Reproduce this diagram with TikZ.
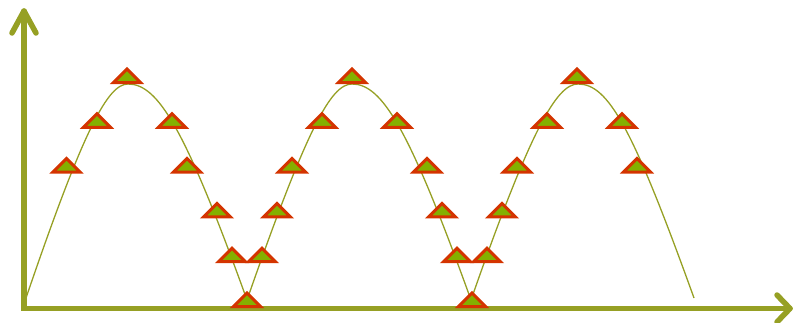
\documentclass[tikz,border=0pt]{standalone}
\definecolor{axisol}{RGB}{150,160,36}
\definecolor{curveol}{RGB}{150,160,36}
\definecolor{trifill}{RGB}{132,176,0}
\definecolor{triedge}{RGB}{212,52,0}
\tikzset{
  axisline/.style={draw=axisol, line width=5.5pt, line cap=round},
  curveline/.style={draw=curveol, line width=1.3pt},
  tri/.pic={\draw[draw=triedge, fill=trifill, line width=3pt, line join=miter] (-13.5,0) -- (0,-13.5) -- (13.5,0) -- cycle;}
}
\begin{document}
\begin{tikzpicture}[x=1pt,y=-1pt]
\path[use as bounding box] (0,0) rectangle (795,322);
% axes
\coordinate (O) at (24,308.5);
\coordinate (Ytip) at (24,11);
\coordinate (Xtip) at (790,308.5);
\coordinate (Yw1) at (12,33);
\coordinate (Yw2) at (36,33);
\coordinate (Xw1) at (777,295);
\coordinate (Xw2) at (777,322);
\draw[axisline, line join=miter] (Ytip) -- (O) -- (Xtip);
\draw[axisline, line join=round] (Yw1) -- (Ytip) -- (Yw2);
\draw[axisline, line join=round] (Xw1) -- (Xtip) -- (Xw2);
% curve
\coordinate (A1) at (26,298);
\coordinate (P1) at (128,84);
\coordinate (A2) at (247,300);
\coordinate (P2) at (352,84);
\coordinate (A3) at (471,300);
\coordinate (P3) at (578,84);
\coordinate (E) at (694,298);
\draw[curveline]
  (A1) .. controls +(58,-170) and +(-20,0) .. (P1)
       .. controls +(30,0) and +(-62,-172) .. (A2)
       .. controls +(60,-172) and +(-21,0) .. (P2)
       .. controls +(30,0) and +(-62,-172) .. (A3)
       .. controls +(60,-172) and +(-21,0) .. (P3)
       .. controls +(30,0) and +(-62,-172) .. (E);
% triangles
\foreach \x/\y [count=\i] in {
  66.5/172.1, 97/127.3, 127/82.5, 172/127.3, 187/172.1, 217/216.9, 232/261.7, 247/306.5,
  262/261.7, 277/216.9, 292/172.1, 322/127.3, 352/82.5,
  397/127.3, 427/172.1, 442/216.9, 457/261.7, 472/306.5,
  487/261.7, 502/216.9, 517/172.1, 547/127.3, 577/82.5,
  622/127.3, 637/172.1}
  \pic (t\i) at (\x,\y) {tri};
\end{tikzpicture}
\end{document}
